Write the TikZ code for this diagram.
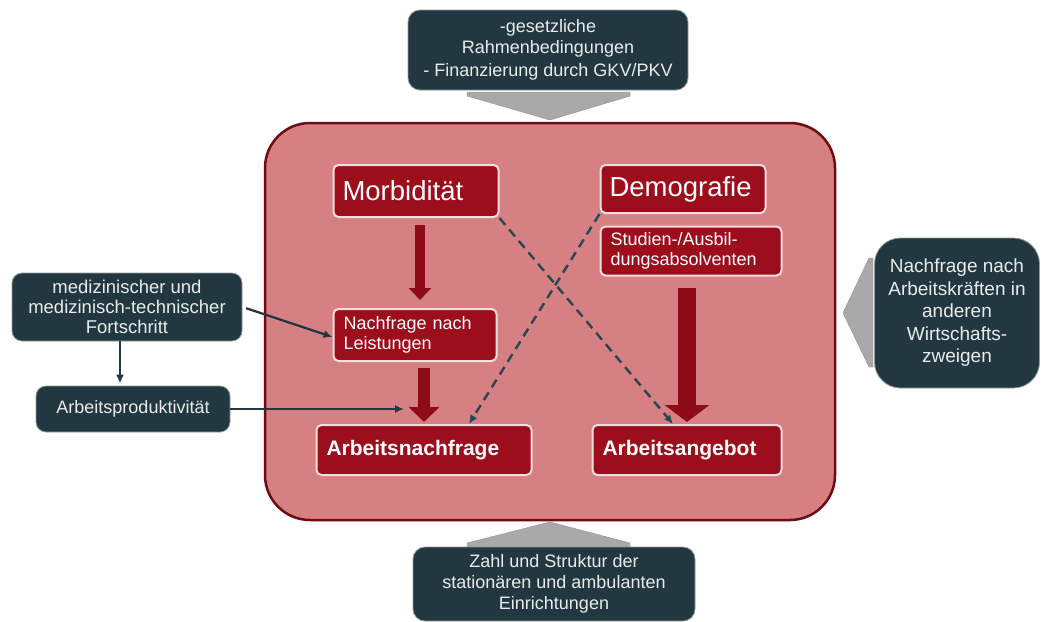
\documentclass[tikz,border=0pt]{standalone}
\usepackage{fontspec}
\setmainfont{Liberation Sans}
\usetikzlibrary{positioning,arrows.meta}
\definecolor{cslate}{HTML}{22373F}
\definecolor{ctext}{HTML}{E9ECEC}
\definecolor{cframe}{HTML}{D68083}
\definecolor{cborder}{HTML}{6E0B12}
\definecolor{cred}{HTML}{9C0E1C}
\definecolor{cedge}{HTML}{F4DDDD}
\definecolor{cblock}{HTML}{8E0C18}
\definecolor{cgray}{HTML}{A9A9A9}
\definecolor{cdash}{HTML}{264753}

\begin{document}
\begin{tikzpicture}[x=1pt,y=-1pt,
      dbox/.style={draw=ctext!55!cslate,fill=cslate,line width=0.8pt,rounded corners=12pt,
                   align=center,text=ctext,inner sep=4pt,font=\fontsize{18}{21}\selectfont},
      cell/.style={draw=cedge,fill=cred,line width=2pt,rounded corners=5pt,align=left,
                   text=white,inner xsep=10pt,inner ysep=2pt,font=\fontsize{18}{20.5}\selectfont},
      head/.style={cell,inner xsep=9pt,font=\fontsize{27.5}{32}\selectfont},
      goal/.style={cell,font=\fontsize{21}{24}\selectfont\bfseries},
      wedge/.style={fill=cgray,draw=cgray!85!black,line width=0.4pt},
      block/.style n args={3}{draw=cblock,line width=#1,-{Triangle[width=#2,length=#3]}},
      link/.style={draw=cslate,line width=2.3pt,-{Latex[length=9pt,width=8pt]}},
      dashar/.style={draw=cdash,line width=2.4pt,dash pattern=on 9pt off 6pt,
                     -{Latex[length=9pt,width=8pt]}}]

    \fill[white] (0,0) rectangle (1043,621);
    \useasboundingbox (0,0) rectangle (1043,621);

    % central frame
    \node[draw=cborder,fill=cframe,line width=2.5pt,rounded corners=45pt,
          minimum width=570pt,minimum height=397pt] (frame) at (550,321.5) {};

    % grey wedges
    \path[wedge] (467,92) -- (630,92) -- (630,96) -- (550,120) -- (467,96) -- cycle;
    \path[wedge] (550,522) -- (630,543) -- (630,547) -- (467,547) -- (467,543) -- cycle;
    \path[wedge] (873,258) -- (873,367) -- (869,367) -- (843,313) -- (869,258) -- cycle;

    % outer boxes
    \node[dbox,minimum width=280pt,minimum height=80pt,font=\fontsize{18}{21}\selectfont] (regs) at (548,50)
         {-gesetzliche\\Rahmenbedingungen\\[2pt]- Finanzierung durch GKV/PKV};
    \node[dbox,minimum width=282pt,minimum height=74pt] (einr) at (554,584)
         {Zahl und Struktur der\\stationären und ambulanten\\Einrichtungen};
    \node[dbox,rounded corners=26pt,minimum width=165pt,minimum height=150pt,
          font=\fontsize{19}{22.5}\selectfont] (wirt) at (957,313)
         {Nachfrage nach\\Arbeitskräften in\\anderen\\Wirtschafts-\\zweigen};
    \node[dbox,rounded corners=10pt,minimum width=230pt,minimum height=68pt,
          font=\fontsize{18.5}{20}\selectfont] (fort) at (127,307)
         {medizinischer und\\medizinisch-technischer\\Fortschritt};
    \node[dbox,rounded corners=10pt,minimum width=194pt,minimum height=46pt] (prod) at (133,409)
         {Arbeitsproduktivität};

    % inner boxes
    \node[head,text width=147pt,minimum height=52pt] (morb) at (416,191) {Morbidität};
    \node[head,text width=147pt,minimum height=48pt] (demo) at (683,189) {Demografie};
    \node[cell,text width=161pt,minimum height=49pt] (stud) at (691,251) {Studien-/Ausbil-\\dungsabsolventen};
    \node[cell,text width=143pt,minimum height=52pt] (leist) at (415,335) {Nachfrage nach\\Leistungen};
    \node[goal,text width=195pt,minimum height=50pt] (anf) at (424,450) {Arbeitsnachfrage};
    \node[goal,text width=169pt,minimum height=50pt] (ang) at (687,450) {Arbeitsangebot};

    \coordinate (pin) at (404,409);

    % block arrows
    \draw[block={10pt}{22pt}{12pt},shorten <=7pt,shorten >=8pt]
         ([xshift=4pt]morb.south) -- ([xshift=4pt]morb.south |- leist.north);
    \draw[block={12pt}{30pt}{15pt},shorten <=6pt,shorten >=2pt] (anf.north |- leist.south) -- (anf.north);
    \draw[block={18pt}{44pt}{17pt},shorten <=11pt,shorten >=2pt] (ang.north |- stud.south) -- (ang.north);

    % dashed cross
    \draw[dashar] (morb.south east) -- ([xshift=-14pt]ang.north);
    \draw[dashar] (demo.south west) -- ([xshift=45pt]anf.north);

    % outside influences
    \draw[link,shorten <=4pt] (fort.east) -- ([yshift=-2pt]leist.west);
    \draw[link,shorten >=2pt] ([xshift=-7pt]fort.south) -- ([xshift=-7pt]fort.south |- prod.north);
    \draw[link] (prod.east) -- (pin);
  \end{tikzpicture}
\end{document}
